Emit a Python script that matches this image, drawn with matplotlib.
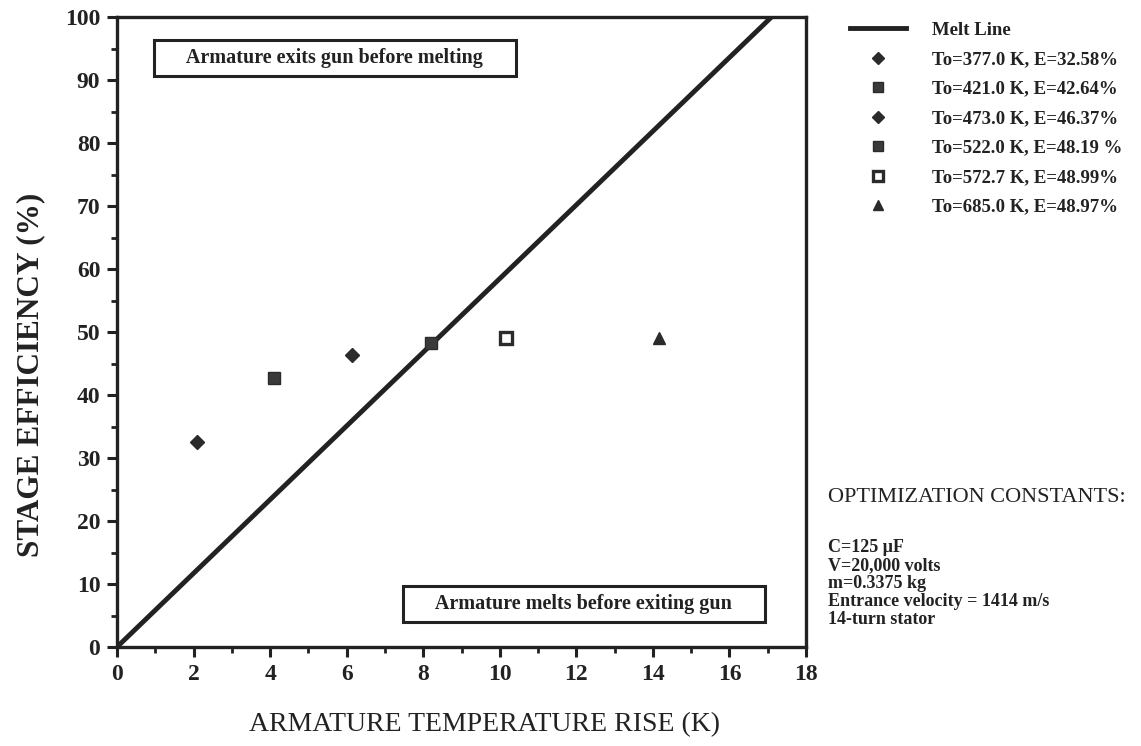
import matplotlib
matplotlib.use("Agg")
import matplotlib.pyplot as plt
from matplotlib.lines import Line2D
from matplotlib.ticker import MultipleLocator

# ---- data ----
melt_x = [0.0, 17.1]
melt_y = [0.0, 100.0]
point_x = [2.1, 4.1, 6.15, 8.2, 10.15, 14.15]
point_y = [32.58, 42.64, 46.37, 48.19, 48.99, 48.97]
point_labels = ["To=377.0 K, E=32.58%", "To=421.0 K, E=42.64%",
                "To=473.0 K, E=46.37%", "To=522.0 K, E=48.19 %",
                "To=572.7 K, E=48.99%", "To=685.0 K, E=48.97%"]
point_markers = ["D", "s", "D", "s", "s", "^"]
point_faces = ["#2b2b2b", "#3a3a3a", "#2b2b2b", "#3a3a3a", "white", "#2b2b2b"]
x_ticks = [0, 2, 4, 6, 8, 10, 12, 14, 16, 18]
y_ticks = [0, 10, 20, 30, 40, 50, 60, 70, 80, 90, 100]
constants = ["C=125 \u03bcF", "V=20,000 volts", "m=0.3375 kg",
             "Entrance velocity = 1414 m/s", "14-turn stator"]

ink = "#222222"
serif = ["Liberation Serif", "DejaVu Serif"]
plt.rcParams["font.family"] = serif

fig = plt.figure(figsize=(11.41, 7.46), dpi=100)
ax = fig.add_axes([117/1141, 1-647/746, (806-117)/1141, (647-17)/746])

ax.plot(melt_x, melt_y, color=ink, lw=3.5, solid_capstyle="butt", zorder=3)
handles = [Line2D([0], [0], color=ink, lw=3.5)]
labels = ["Melt Line"]
for x, y, m, fc, lab in zip(point_x, point_y, point_markers, point_faces, point_labels):
    ms = 8.5 if m != "D" else 7.5
    mew = 2.4 if fc == "white" else 1
    ax.plot([x], [y], marker=m, ms=ms, mfc=fc, mec="#2b2b2b", mew=mew,
            ls="none", zorder=4)
    handles.append(Line2D([0], [0], marker=m, ms=ms - 1, mfc=fc, mec="#2b2b2b",
                          mew=mew, ls="none"))
    labels.append(lab)

ax.set_xlim(0, 18)
ax.set_ylim(0, 100)
ax.set_xticks(x_ticks)
ax.set_yticks(y_ticks)
ax.xaxis.set_minor_locator(MultipleLocator(1))
ax.yaxis.set_minor_locator(MultipleLocator(5))
ax.tick_params(which="major", direction="out", length=7, width=2.2, color=ink,
               labelsize=17, pad=5)
ax.tick_params(which="minor", direction="out", length=4, width=2, color=ink)
for lab in ax.get_xticklabels() + ax.get_yticklabels():
    lab.set_fontweight("bold")
    lab.set_color(ink)
for sp in ax.spines.values():
    sp.set_linewidth(2.4)
    sp.set_color(ink)

fig.text(31/1141, 1-375/746, "STAGE EFFICIENCY (%)", fontsize=22.5,
         fontweight="bold", rotation=90, ha="center", va="center", color=ink)
fig.text(485/1141, 1-725/746, "ARMATURE TEMPERATURE RISE (K)", fontsize=20,
         ha="center", va="center", color=ink)

box = dict(boxstyle="square,pad=0.4", fc="white", ec=ink, lw=2.2)
ax.text(5.7, 93.5, "     Armature exits gun before melting     ", ha="center",
        va="center", fontsize=14.5, fontweight="bold", bbox=box, color=ink)
ax.text(12.2, 6.8, "     Armature melts before exiting gun     ", ha="center",
        va="center", fontsize=14.5, fontweight="bold", bbox=box, color=ink)

leg = fig.legend(handles, labels, loc="upper left",
                 bbox_to_anchor=(842/1141, 1-14/746), frameon=False,
                 prop={"family": serif, "weight": "bold", "size": 13.5},
                 handlelength=3.0, handletextpad=1.4, labelspacing=0.66,
                 borderaxespad=0)
for t in leg.get_texts():
    t.set_color(ink)

fig.text(828/1141, 1-497/746, "OPTIMIZATION CONSTANTS:", fontsize=16,
         va="center", ha="left", color=ink)
for i, s in enumerate(constants):
    fig.text(828/1141, 1-(548 + i*18)/746, s, fontsize=13, fontweight="bold",
             va="center", ha="left", color=ink)

fig.savefig("out.png", dpi=100)
